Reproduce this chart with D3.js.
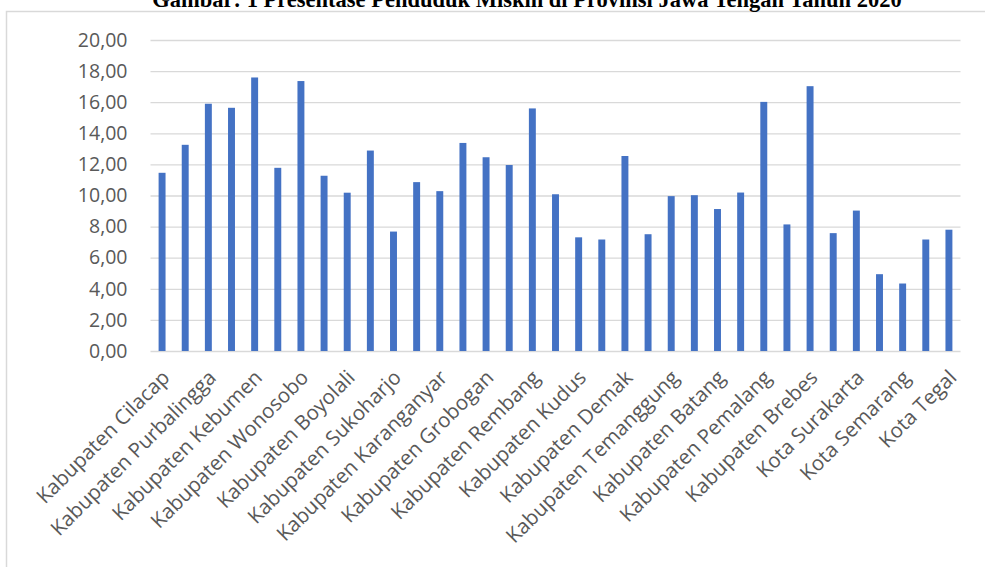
<!DOCTYPE html>
<html>
<head>
<meta charset="utf-8">
<script src="https://cdn.jsdelivr.net/npm/d3@7"></script>
<style>
    html, body { margin: 0; padding: 0; background: #fff; }
    svg { display: block; }
</style>
</head>
<body>
<div id="chart"></div>
<script>
const categories = [
    'Kabupaten Cilacap', 'Kabupaten Banyumas', 'Kabupaten Purbalingga', 'Kabupaten Banjarnegara',
    'Kabupaten Kebumen', 'Kabupaten Purworejo', 'Kabupaten Wonosobo', 'Kabupaten Magelang',
    'Kabupaten Boyolali', 'Kabupaten Klaten', 'Kabupaten Sukoharjo', 'Kabupaten Wonogiri',
    'Kabupaten Karanganyar', 'Kabupaten Sragen', 'Kabupaten Grobogan', 'Kabupaten Blora',
    'Kabupaten Rembang', 'Kabupaten Pati', 'Kabupaten Kudus', 'Kabupaten Jepara',
    'Kabupaten Demak', 'Kabupaten Semarang', 'Kabupaten Temanggung', 'Kabupaten Kendal',
    'Kabupaten Batang', 'Kabupaten Pekalongan', 'Kabupaten Pemalang', 'Kabupaten Tegal',
    'Kabupaten Brebes', 'Kota Magelang', 'Kota Surakarta', 'Kota Salatiga',
    'Kota Semarang', 'Kota Pekalongan', 'Kota Tegal'
];

const values = [
    11.46, 13.26, 15.90, 15.64, 17.59, 11.78, 17.36, 11.27,
    10.18, 12.89, 7.68, 10.86, 10.28, 13.38, 12.46, 11.96,
    15.60, 10.08, 7.31, 7.17, 12.54, 7.51, 9.96, 10.02,
    9.13, 10.19, 16.02, 8.14, 17.03, 7.58, 9.03, 4.94,
    4.34, 7.17, 7.80
];

const yTicks = [0, 2, 4, 6, 8, 10, 12, 14, 16, 18, 20];

const titleText = 'Gambar: 1 Presentase Penduduk Miskin di Provinsi Jawa Tengah Tahun 2020';

const width = 985, height = 567;
const plot = { left: 150.5, right: 960.5, top: 40, bottom: 351 };
const labelFont = '"Open Sans", "Noto Sans", sans-serif';

const svg = d3.select('#chart').append('svg')
    .attr('width', width)
    .attr('height', height)
    .attr('viewBox', [0, 0, width, height]);

// frame of the chart area (only top and left edge are visible)
svg.append('path')
    .attr('d', `M6.5,${height} V11.5 H${width}`)
    .attr('fill', 'none')
    .attr('stroke', '#d9d9d9')
    .attr('stroke-width', 1.5);

const x = d3.scaleBand()
    .domain(categories)
    .range([plot.left, plot.right])
    .paddingInner(0.7)
    .paddingOuter(0.35);

const y = d3.scaleLinear()
    .domain([0, 20])
    .range([plot.bottom, plot.top]);

// gridlines + y labels
svg.append('g')
    .attr('transform', `translate(${plot.left},0)`)
    .call(d3.axisLeft(y)
        .tickValues(yTicks)
        .tickSize(-(plot.right - plot.left))
        .tickPadding(23)
        .tickFormat(d => d3.format('.2f')(d).replace('.', ',')))
    .call(g => {
        g.select('.domain').remove();
        g.selectAll('.tick line').attr('stroke', '#d9d9d9').attr('stroke-width', 1.3);
        g.selectAll('.tick text')
            .attr('fill', '#595959')
            .attr('font-size', '19.5px')
            .attr('font-family', labelFont);
    });

svg.append('g')
    .selectAll('rect')
    .data(values)
    .join('rect')
    .attr('x', (d, i) => x(categories[i]))
    .attr('y', d => y(d))
    .attr('width', x.bandwidth())
    .attr('height', d => y(0) - y(d))
    .attr('fill', '#4472c4');

// x labels: every second category, rotated 45deg
svg.append('g')
    .selectAll('text')
    .data(categories.filter((d, i) => i % 2 === 0))
    .join('text')
    .attr('transform', d => `translate(${x(d) + x.bandwidth() / 2 - 2},${plot.bottom + 17}) rotate(-45)`)
    .attr('text-anchor', 'end')
    .attr('dy', '0.75em')
    .attr('fill', '#595959')
    .attr('font-size', '20.5px')
    .attr('font-family', labelFont)
    .text(d => d);

// title is clipped by the top edge, same as in the source image
svg.append('text')
    .attr('x', 527)
    .attr('y', 7)
    .attr('text-anchor', 'middle')
    .attr('font-family', '"Liberation Serif", "Times New Roman", serif')
    .attr('font-weight', 'bold')
    .attr('font-size', '22.5px')
    .attr('fill', '#000')
    .text(titleText);
</script>
</body>
</html>
